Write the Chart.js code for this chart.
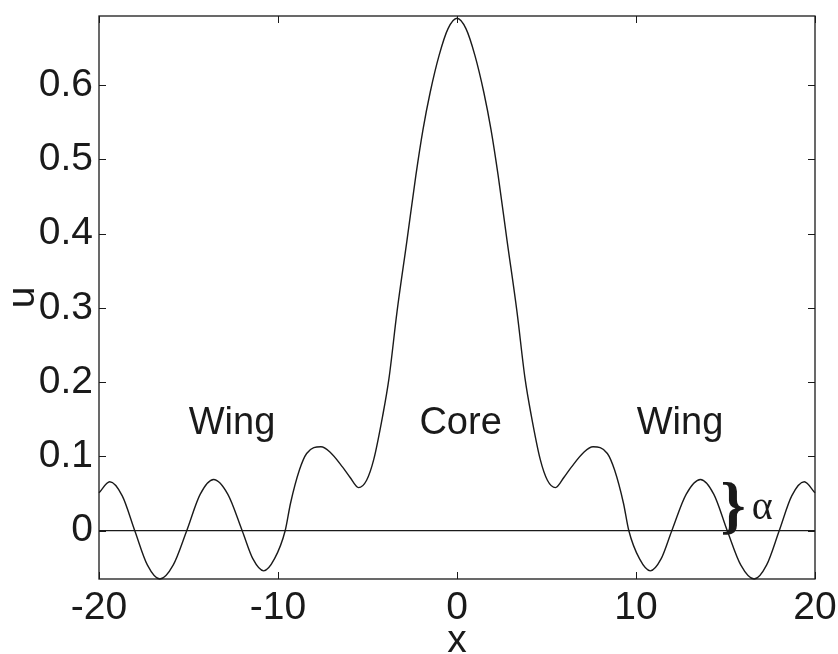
<!DOCTYPE html>
<html>
<head>
<meta charset="utf-8">
<script src="https://cdn.jsdelivr.net/npm/chart.js@4/dist/chart.umd.min.js"></script>
<style>
  html, body { margin: 0; padding: 0; background: #ffffff; }
  #wrap { width: 838px; height: 654px; }
</style>
</head>
<body>
<div id="wrap"><canvas id="c" width="838" height="654"></canvas></div>
<script>
// ---- data ----
const xValues = [
  -20, -19.4, -18.7, -18.0, -17.3, -16.6, -15.85, -15.1, -14.35, -13.6, -12.8, -12.0,
  -11.4, -10.8, -10.2, -9.6, -9.3, -8.8, -8.4, -7.6, -7.1, -6.4, -5.98, -5.5, -5.05, -4.65,
  -4.15, -3.8, -3.35, -2.8, -2.3, -1.9, -1.5, -1.0, -0.5, 0,
  0.5, 1.0, 1.5, 1.9, 2.3, 2.8, 3.35, 3.8, 4.15, 4.65, 5.05, 5.5, 5.98, 6.4, 7.1, 7.6,
  8.4, 8.8, 9.3, 9.6, 10.2, 10.8, 11.4, 12.0, 12.8, 13.6, 14.35, 15.1, 15.85, 16.6,
  17.3, 18.0, 18.7, 19.4, 20
];
const uValues = [
  0.051, 0.066, 0.047, 0.0, -0.046, -0.065, -0.046, 0.0, 0.049, 0.069, 0.049, 0.0,
  -0.038, -0.054, -0.038, 0.0, 0.037, 0.082, 0.104, 0.113, 0.106, 0.086, 0.072, 0.058, 0.068, 0.096,
  0.155, 0.205, 0.295, 0.390, 0.478, 0.540, 0.590, 0.640, 0.676, 0.690,
  0.676, 0.640, 0.590, 0.540, 0.478, 0.390, 0.295, 0.205, 0.155, 0.096, 0.068, 0.058, 0.072, 0.086, 0.106, 0.113,
  0.104, 0.082, 0.037, 0.0, -0.038, -0.054, -0.038, 0.0, 0.049, 0.069, 0.049, 0.0, -0.046, -0.065,
  -0.046, 0.0, 0.047, 0.066, 0.051
];
const zeroLineX = [-20, 20];
const zeroLineU = [0, 0];
const xTickValues = [-20, -10, 0, 10, 20];
const yTickValues = [0, 0.1, 0.2, 0.3, 0.4, 0.5, 0.6];
const xRange = [-20, 20];
const yRange = [-0.065, 0.693];
const regionLabels = ["Wing", "Core", "Wing"];
const regionLabelX = [-12.57, 0.2, 12.46];
const regionLabelU = 0.130;

const FONT = '"Liberation Sans", Arial, Helvetica, sans-serif';
const SERIF = '"Liberation Serif", "DejaVu Serif", serif';
const INK = '#1a1a1a';

const frameAndTicks = {
  id: 'frameAndTicks',
  afterDraw(chart) {
    const ctx = chart.ctx;
    const a = chart.chartArea;
    const xs = chart.scales.x, ys = chart.scales.y;
    const L = 7;
    ctx.save();
    ctx.strokeStyle = INK;
    ctx.lineWidth = 1.3;
    ctx.strokeRect(a.left, a.top, a.right - a.left, a.bottom - a.top);
    ctx.lineWidth = 1;
    ctx.beginPath();
    xTickValues.forEach(v => {
      const p = Math.round(xs.getPixelForValue(v)) + 0.5;
      ctx.moveTo(p, a.bottom); ctx.lineTo(p, a.bottom - L);
      ctx.moveTo(p, a.top); ctx.lineTo(p, a.top + L);
    });
    yTickValues.forEach(v => {
      const p = Math.round(ys.getPixelForValue(v)) + 0.5;
      ctx.moveTo(a.left, p); ctx.lineTo(a.left + L, p);
      ctx.moveTo(a.right, p); ctx.lineTo(a.right - L, p);
    });
    ctx.stroke();
    ctx.restore();
  }
};

const annotations = {
  id: 'annotations',
  afterDatasetsDraw(chart) {
    const ctx = chart.ctx;
    const xs = chart.scales.x, ys = chart.scales.y;
    ctx.save();
    ctx.fillStyle = INK;
    ctx.font = '38px ' + FONT;
    ctx.textAlign = 'center';
    ctx.textBaseline = 'alphabetic';
    regionLabels.forEach((t, i) => {
      ctx.fillText(t, xs.getPixelForValue(regionLabelX[i]), ys.getPixelForValue(regionLabelU));
    });
    // brace and alpha
    ctx.font = 'bold 64px ' + SERIF;
    ctx.textBaseline = 'middle';
    ctx.fillText('}', xs.getPixelForValue(15.42), ys.getPixelForValue(0.028));
    ctx.font = '40px ' + SERIF;
    ctx.fillText('\u03B1', xs.getPixelForValue(17.05), ys.getPixelForValue(0.030));
    ctx.restore();
  }
};

new Chart(document.getElementById('c'), {
  type: 'line',
  data: {
    datasets: [
      {
        data: xValues.map((x, i) => ({ x: x, y: uValues[i] })),
        borderColor: INK,
        borderWidth: 1.4,
        pointRadius: 0,
        fill: false,
        cubicInterpolationMode: 'monotone'
      },
      {
        data: zeroLineX.map((x, i) => ({ x: x, y: zeroLineU[i] })),
        borderColor: INK,
        borderWidth: 1.2,
        pointRadius: 0,
        fill: false
      }
    ]
  },
  options: {
    responsive: false,
    animation: false,
    clip: false,
    layout: { padding: { left: 0, right: 23, top: 16, bottom: 0 } },
    plugins: { legend: { display: false }, tooltip: { enabled: false } },
    scales: {
      x: {
        type: 'linear',
        min: xRange[0], max: xRange[1],
        afterBuildTicks: s => { s.ticks = xTickValues.map(v => ({ value: v })); },
        afterFit: s => { s.height = 75; s.paddingLeft = 0; s.paddingRight = 0; },
        grid: { display: false, drawTicks: false },
        border: { display: false },
        ticks: { color: INK, font: { family: FONT, size: 39 }, padding: 6, maxRotation: 0, autoSkip: false,
                 callback: v => String(v) },
        title: { display: true, text: 'x', color: INK, font: { family: FONT, size: 39, lineHeight: 0.65 }, padding: 0 }
      },
      y: {
        type: 'linear',
        min: yRange[0], max: yRange[1],
        afterBuildTicks: s => { s.ticks = yTickValues.map(v => ({ value: v })); },
        afterFit: s => { s.width = 99; s.paddingTop = 0; s.paddingBottom = 0; },
        grid: { display: false, drawTicks: false },
        border: { display: false },
        ticks: { color: INK, font: { family: FONT, size: 39 }, padding: 6, autoSkip: false,
                 callback: v => String(v) },
        title: { display: true, text: 'u', color: INK, font: { family: FONT, size: 39, lineHeight: 1.2 }, padding: 0 }
      }
    }
  },
  plugins: [frameAndTicks, annotations]
});
</script>
</body>
</html>
